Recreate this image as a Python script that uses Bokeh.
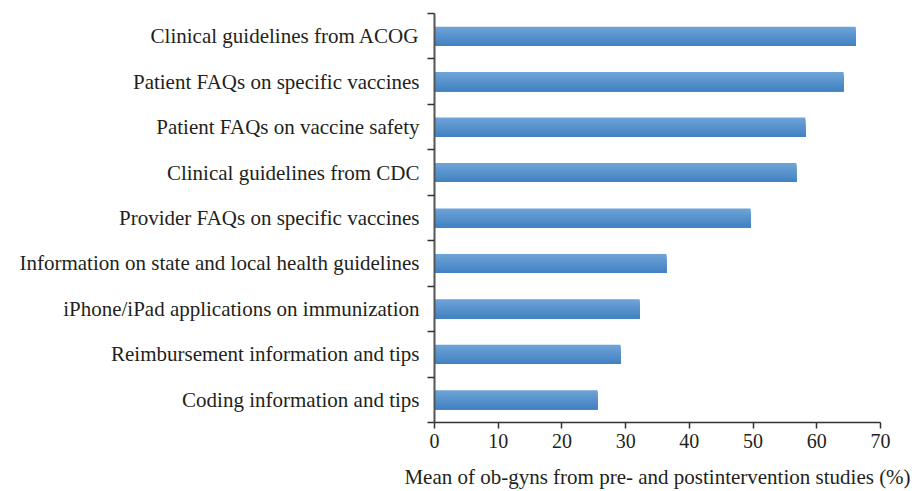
from bokeh.plotting import figure
from bokeh.models import Range1d, FixedTicker, LinearAxis
from bokeh.embed import file_html
from bokeh.resources import INLINE

categories = [
    "Coding information and tips",
    "Reimbursement information and tips",
    "iPhone/iPad applications on immunization",
    "Information on state and local health guidelines",
    "Provider FAQs on specific vaccines",
    "Clinical guidelines from CDC",
    "Patient FAQs on vaccine safety",
    "Patient FAQs on specific vaccines",
    "Clinical guidelines from ACOG",
]
values = [25.6, 29.2, 32.2, 36.4, 49.6, 56.8, 58.2, 64.2, 66.1]
x_ticks = [0, 10, 20, 30, 40, 50, 60, 70]
x_title = "Mean of ob-gyns from pre- and postintervention studies (%)"

FONT = "Liberation Serif"
centers = [i + 0.5 for i in range(len(categories))]
bounds = list(range(len(categories) + 1))

p = figure(width=919, height=491, output_backend="svg", toolbar_location=None,
           x_range=Range1d(0, 70), y_range=Range1d(0, len(categories)),
           min_border_left=434, min_border_right=39, min_border_top=13, min_border_bottom=68,
           y_axis_type=None)
p.outline_line_color = None
p.grid.visible = False
p.background_fill_color = "white"

# gradient bars (light top -> darker bottom), layered so there are no seams
bar_h = 0.42
n_strips = 14
top_rgb = (0x6e, 0xa3, 0xd7)
bot_rgb = (0x42, 0x82, 0xc2)
for k in range(n_strips):
    t = k / (n_strips - 1)
    rgb = tuple(int(round(top_rgb[j] + (bot_rgb[j] - top_rgb[j]) * t)) for j in range(3))
    col = "#%02x%02x%02x" % rgb
    sh = bar_h / n_strips
    tops = [c + bar_h / 2 - sh * k for c in centers]
    bottoms = [c - bar_h / 2 for c in centers]
    p.quad(left=0, right=values, top=tops, bottom=bottoms, fill_color=col, line_color=None)

# x axis
xa = p.xaxis[0]
xa.ticker = FixedTicker(ticks=x_ticks, minor_ticks=[])
xa.axis_line_color = "#333333"
xa.axis_line_width = 1.5
xa.major_tick_line_color = "#333333"
xa.major_tick_line_width = 1.5
xa.major_tick_out = 6
xa.major_tick_in = 0
xa.minor_tick_line_color = None
xa.major_label_text_font = FONT
xa.major_label_text_font_size = "20px"
xa.major_label_text_color = "#231f20"
xa.major_label_standoff = 5
xa.axis_label = x_title
xa.axis_label_text_font = FONT
xa.axis_label_text_font_size = "21px"
xa.axis_label_text_font_style = "normal"
xa.axis_label_text_color = "#231f20"
xa.axis_label_standoff = 14

# y axis: labels at centers, ticks at boundaries
ya = LinearAxis(ticker=FixedTicker(ticks=centers, minor_ticks=bounds))
ya.major_label_overrides = {c: lab for c, lab in zip(centers, categories)}
ya.major_tick_line_color = None
ya.major_tick_out = 0
ya.major_tick_in = 0
ya.minor_tick_line_color = "#333333"
ya.minor_tick_line_width = 1.5
ya.minor_tick_out = 7
ya.minor_tick_in = 0
ya.axis_line_color = "#555555"
ya.axis_line_width = 2
ya.major_label_text_font = FONT
ya.major_label_text_font_size = "21px"
ya.major_label_text_color = "#231f20"
ya.major_label_standoff = 8
p.add_layout(ya, "left")

open("out.html", "w").write(file_html(p, INLINE))
